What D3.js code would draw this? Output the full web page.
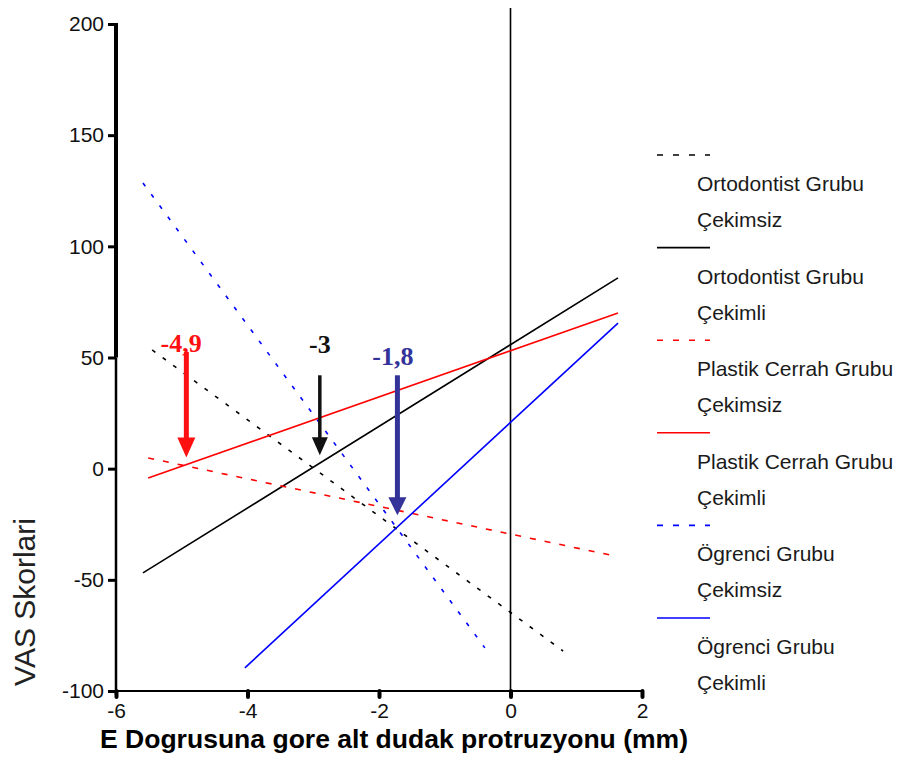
<!DOCTYPE html>
<html>
<head>
<meta charset="utf-8">
<script src="https://cdn.jsdelivr.net/npm/d3@7"></script>
<style>
  html, body { margin: 0; padding: 0; background: #fff; }
  svg { display: block; }
</style>
</head>
<body>
<svg id="chart" width="899" height="758"></svg>
<script>
// ---------- data ----------
const xTicks = [-6, -4, -2, 0, 2];
const yTicks = [-100, -50, 0, 50, 100, 150, 200];
const groups = ["Ortodontist Grubu", "Ortodontist Grubu", "Plastik Cerrah Grubu", "Plastik Cerrah Grubu", "Ögrenci Grubu", "Ögrenci Grubu"];
const subgroups = ["Çekimsiz", "Çekimli", "Çekimsiz", "Çekimli", "Çekimsiz", "Çekimli"];
// regression line endpoints (x in mm, y in VAS)
const lineX = [[-5.45, 0.80], [-5.59, 1.635], [-5.51, 1.59], [-5.51, 1.635], [-5.59, -0.39], [-4.04, 1.635]];
const lineY = [[53.4, -82], [-46.9, 85.8], [4.8, -39.3], [-4.2, 70.0], [128.5, -80.6], [-89.6, 65.5]];
// annotated threshold values
const annLabels = ["-4,9", "-3", "-1,8"];
const annArrowX = [-4.93, -2.9, -1.72];
const annArrowTop = [52.5, 42, 42];
const annArrowTip = [5, 6, -21];
const annLabelX = [-5.01, -2.9, -1.79];
const annLabelY = [52.5, 52, 46.6];
const xTitle = "E Dogrusuna gore alt dudak protruzyonu (mm)";
const yTitle = "VAS Skorlari";

// ---------- styles ----------
const lineColors = ["#000000", "#000000", "#ff0000", "#ff0000", "#0000ff", "#0000ff"];
const lineDash = ["4,9", null, "6,9", null, "4,10", null];
const annColors = ["#ff1010", "#111111", "#333399"];
const annShaft = [5, 3.5, 5];
const annHeadW = [18, 16, 18];
const annHeadL = [20, 18, 18];

const svg = d3.select("#chart");
const x = d3.scaleLinear().domain([-6, 2]).range([116, 642]);
const y = d3.scaleLinear().domain([-100, 200]).range([691, 24]);
const FONT = "'Liberation Sans', Arial, sans-serif";

// zero vertical line
svg.append("line")
  .attr("x1", x(0)).attr("x2", x(0))
  .attr("y1", 8).attr("y2", y(-100))
  .attr("stroke", "#000").attr("stroke-width", 1.6);

// y axis
const yAxis = svg.append("g")
  .attr("transform", `translate(${x(-6)},0)`)
  .call(d3.axisLeft(y).tickValues(yTicks).tickSize(8).tickPadding(4).tickFormat(d => String(d)));
yAxis.select(".domain").remove();
yAxis.selectAll(".tick line").attr("stroke", "#000").attr("stroke-width", 3);
yAxis.selectAll(".tick text")
  .attr("font-family", FONT).attr("font-size", 21).attr("fill", "#111");
svg.append("line")
  .attr("x1", x(-6)).attr("x2", x(-6))
  .attr("y1", y(200) - 1).attr("y2", y(50))
  .attr("stroke", "#000").attr("stroke-width", 4);
svg.append("line")
  .attr("x1", x(-6)).attr("x2", x(-6))
  .attr("y1", y(50)).attr("y2", y(-100) + 4)
  .attr("stroke", "#000").attr("stroke-width", 2.5);

// x axis
const xAxis = svg.append("g")
  .attr("transform", `translate(0,${y(-100)})`)
  .call(d3.axisBottom(x).tickValues(xTicks).tickSize(6).tickPadding(6).tickFormat(d => String(d)));
xAxis.select(".domain").remove();
xAxis.selectAll(".tick line").attr("stroke", "#000").attr("stroke-width", 4).attr("stroke-linecap", "round");
xAxis.selectAll(".tick text")
  .attr("font-family", FONT).attr("font-size", 21).attr("fill", "#111");
svg.append("line")
  .attr("x1", x(-6) - 2).attr("x2", x(2))
  .attr("y1", y(-100)).attr("y2", y(-100))
  .attr("stroke", "#000").attr("stroke-width", 2);

// regression lines
const lineGen = d3.line().x(d => x(d[0])).y(d => y(d[1]));
lineX.forEach((xs, i) => {
  const pts = xs.map((xv, j) => [xv, lineY[i][j]]);
  svg.append("path")
    .attr("d", lineGen(pts))
    .attr("fill", "none")
    .attr("stroke", lineColors[i])
    .attr("stroke-width", 1.6)
    .attr("stroke-dasharray", lineDash[i]);
});

// annotations
annLabels.forEach((lab, i) => {
  const ax = x(annArrowX[i]);
  const top = y(annArrowTop[i]);
  const tip = y(annArrowTip[i]);
  const base = tip - annHeadL[i];
  svg.append("line")
    .attr("x1", ax).attr("x2", ax).attr("y1", top).attr("y2", base + 1)
    .attr("stroke", annColors[i]).attr("stroke-width", annShaft[i]);
  svg.append("path")
    .attr("d", `M${ax - annHeadW[i] / 2},${base} L${ax + annHeadW[i] / 2},${base} L${ax},${tip} Z`)
    .attr("fill", annColors[i]);
  svg.append("text")
    .attr("x", x(annLabelX[i])).attr("y", y(annLabelY[i]))
    .attr("text-anchor", "middle")
    .attr("font-family", "'Liberation Serif', 'Times New Roman', serif")
    .attr("font-weight", "bold").attr("font-size", 26)
    .attr("fill", annColors[i])
    .text(lab);
});

// legend
groups.forEach((g, i) => {
  const L = 155 + i * 92.6;
  svg.append("line")
    .attr("x1", 657).attr("x2", 710).attr("y1", L).attr("y2", L)
    .attr("stroke", lineColors[i]).attr("stroke-width", 1.6)
    .attr("stroke-dasharray", lineDash[i] ? "6,10" : null);
  svg.append("text")
    .attr("x", 697).attr("y", L + 36)
    .attr("font-family", FONT).attr("font-size", 21).attr("fill", "#1a1a1a")
    .text(g);
  svg.append("text")
    .attr("x", 697).attr("y", L + 72)
    .attr("font-family", FONT).attr("font-size", 21).attr("fill", "#1a1a1a")
    .text(subgroups[i]);
});

// axis titles
svg.append("text")
  .attr("x", 394).attr("y", 748)
  .attr("text-anchor", "middle")
  .attr("font-family", FONT).attr("font-weight", "bold").attr("font-size", 26)
  .attr("textLength", 588).attr("lengthAdjust", "spacingAndGlyphs")
  .attr("fill", "#000")
  .text(xTitle);
svg.append("text")
  .attr("transform", `translate(35,602) rotate(-90)`)
  .attr("text-anchor", "middle")
  .attr("font-family", FONT).attr("font-size", 30)
  .attr("fill", "#222")
  .text(yTitle);
</script>
</body>
</html>
